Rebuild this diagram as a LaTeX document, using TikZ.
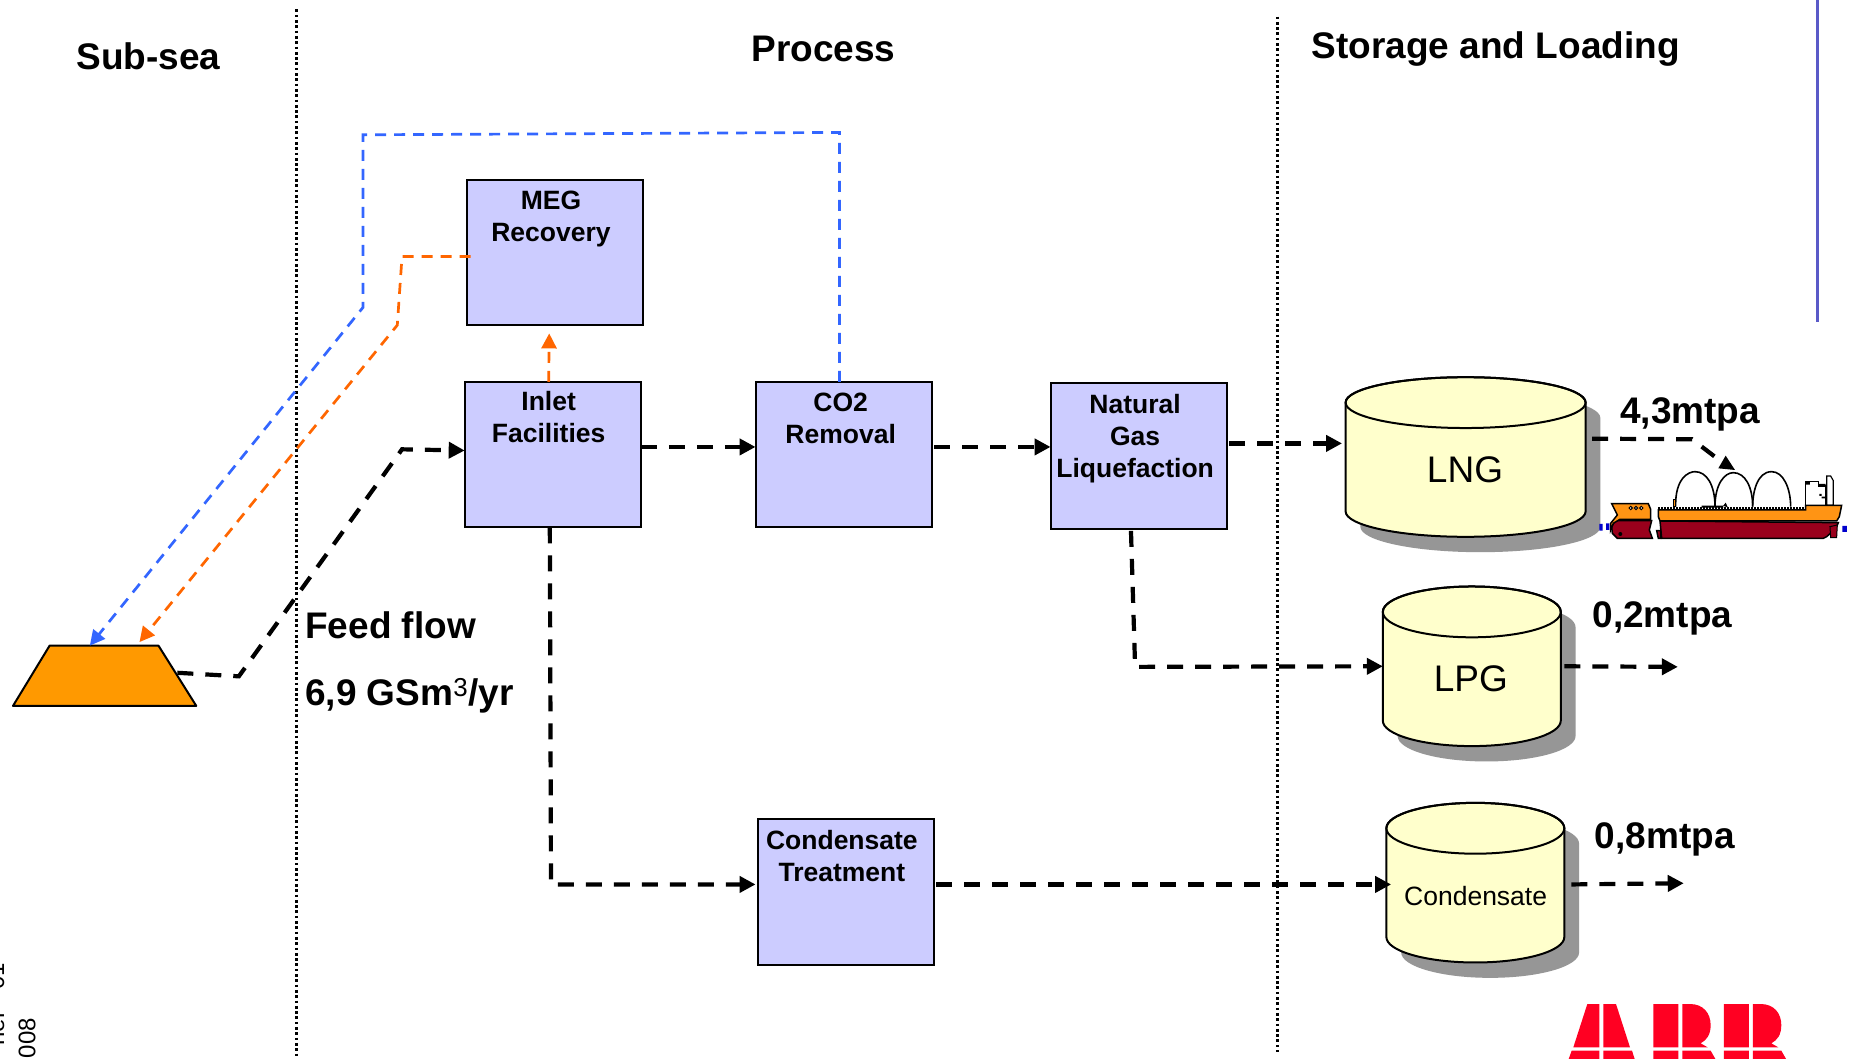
\documentclass[tikz,border=0pt]{standalone}
\usepackage{fontspec}
\setmainfont{Liberation Sans}
\usetikzlibrary{arrows.meta,calc,shapes.geometric}
\definecolor{boxfill}{HTML}{CCCCFF}
\definecolor{cylfill}{HTML}{FFFFCC}
\definecolor{shadowgray}{HTML}{969696}
\definecolor{wellorange}{HTML}{FF9900}
\definecolor{megblue}{HTML}{3366FF}
\definecolor{megorange}{HTML}{FF6600}
\definecolor{sideline}{HTML}{5A5AC8}
\definecolor{abbred}{HTML}{FF0022}
\definecolor{shiporange}{HTML}{FF9414}
\definecolor{shipred}{HTML}{99001C}
\tikzset{
  procbox/.style={draw=black,line width=2pt,fill=boxfill,minimum width=176.2pt,minimum height=145.4pt,inner sep=0pt,outer sep=0pt},
  boxtext/.style={font=\fontsize{26.5}{32}\selectfont\bfseries,align=center,anchor=north,inner sep=0pt},
  heading/.style={font=\fontsize{37}{44}\selectfont\bfseries,anchor=base,inner sep=0pt},
  cyltext/.style={font=\fontsize{37}{44}\selectfont,anchor=base,inner sep=0pt},
  flow/.style={line width=4.2pt,dash pattern=on 16pt off 12pt,-{Triangle[length=16pt,width=16pt]}},
  flowplain/.style={line width=4.2pt,dash pattern=on 16pt off 12pt},
  recycle/.style={line width=2.7pt,dash pattern=on 11pt off 8pt},
  divider/.style={line width=3pt,dash pattern=on 2.7pt off 2.6pt},
}
\newcommand{\cylinder}[6]{%
  \pgfmathsetmacro{\rx}{(#3-#2)/2}
  \pgfmathsetmacro{\cx}{(#3+#2)/2}
  \pgfmathsetmacro{\cy}{(#4+#5)/2}
  \pgfmathsetmacro{\hh}{(#5-#4+2*#6)*1.1824}
  \pgfmathsetmacro{\ww}{(#3-#2)*1.1824}
  \begin{scope}[shift={(12.5,13)}]
    \fill[shadowgray] (#2,#4) -- (#2,#5) arc[start angle=180,end angle=0,x radius=\rx,y radius=#6] -- (#3,#4) arc[start angle=0,end angle=-180,x radius=\rx,y radius=#6] -- cycle;
  \end{scope}
  \draw[line width=2pt,fill=cylfill] (#2,#4) -- (#2,#5) arc[start angle=180,end angle=0,x radius=\rx,y radius=#6] -- (#3,#4) arc[start angle=0,end angle=-180,x radius=\rx,y radius=#6] -- cycle;
  \draw[line width=2pt] (\cx,#4) ellipse[x radius=\rx,y radius=#6];
  \node[minimum width=\ww pt,minimum height=\hh pt,inner sep=0pt,outer sep=0pt] (#1) at (\cx,\cy) {};
}
\begin{document}
\begin{tikzpicture}[x=1.1824pt,y=-1.1824pt]
\useasboundingbox (0,0) rectangle (1568,894.8);
\clip (0,0) rectangle (1568,894.8);
\fill[white] (0,0) rectangle (1568,894.8);

% dividers
\coordinate (d1a) at (251,8); \coordinate (d1b) at (251,895);
\coordinate (d2a) at (1080,14); \coordinate (d2b) at (1080,890);
\coordinate (s1) at (1537,0); \coordinate (s2) at (1537,272);
\draw[divider] (d1a) -- (d1b);
\draw[divider] (d2a) -- (d2b);
\draw[sideline,line width=3.5pt] (s1) -- (s2);

% headings
\node[heading] (hsub) at (125.5,59) {Sub-sea};
\node[heading] (hproc) at (696.5,52) {Process};
\node[heading] (hstore) at (1265,49.5) {Storage and Loading};

% process boxes
\node[procbox] (meg) at (469.5,213.5) {};
\node[procbox] (inlet) at (467.5,384.5) {};
\node[procbox] (co2) at (713.5,384.5) {};
\node[procbox] (ngl) at (963,385.5) {};
\node[procbox] (cond) at (715.5,754.5) {};
\node[boxtext] (megt) at (466,161) {MEG\\Recovery};
\node[boxtext] (inlett) at (464,331) {Inlet\\Facilities};
\node[boxtext] (co2t) at (711,332) {CO2\\Removal};
\node[boxtext] (nglt) at (960,333) {Natural\\Gas\\Liquefaction};
\node[boxtext] (condt) at (712,702) {Condensate\\Treatment};

% tanks
\cylinder{lng}{1138}{1341}{340.5}{432.5}{21.5}
\cylinder{lpg}{1169.5}{1320}{517.5}{609.5}{21.5}
\cylinder{cdt}{1172.5}{1323}{700.5}{792.5}{21.5}
\node[cyltext] (lngt) at (1239,408) {LNG};
\node[cyltext] (lpgt) at (1244,585) {LPG};
\node[font=\fontsize{26.5}{32}\selectfont,anchor=base,inner sep=0pt] (cdtt) at (1248,765.5) {Condensate};

% well
\node[minimum width=183.3pt,minimum height=60.3pt,inner sep=0pt,outer sep=0pt] (well) at (88.5,571.5) {};
\draw[line width=2pt,fill=wellorange,line join=round] (well.south west) -- ($(well.north west)+(31,0)$) -- ($(well.north east)+(-32,0)$) -- (well.south east) -- cycle;

% labels
\node[heading] (m1) at (1429.5,358) {4,3mtpa};
\node[heading] (m2) at (1406,531) {0,2mtpa};
\node[heading] (m3) at (1408,718) {0,8mtpa};
\node[heading,anchor=base west] (ff1) at (258,540) {Feed flow};
\node[heading,anchor=base west] (ff2) at (258,597) {6,9 GSm\textsuperscript{\mdseries 3}/yr};

% recycle lines
\draw[recycle,megblue,-{Triangle[length=15pt,width=15pt]}] ($(co2.north)+(-3.5,0)$) -- (710,112) -- (307,114) -- (307,260) -- ($(well.north)+(-12.5,0)$);
\draw[recycle,megorange,-{Triangle[length=15pt,width=15pt]}] ($(meg.west)+(3,3.5)$) -- (340,217) -- (336,275) -- ($(well.north)+(29.5,-3)$);
\draw[recycle,megorange,-{Triangle[length=15pt,width=15pt]}] ($(inlet.north)+(-3.5,0)$) -- ($(meg.south)+(-5,7)$);

% main flows
\draw[flow] ($(well.center)+(61.5,-2.5)$) -- (202,572) -- (340,380) -- ($(inlet.west)+(0,-3.5)$);
\draw[flow] ($(inlet.east)+(0,-6.5)$) -- ($(co2.west)+(0,-6.5)$);
\draw[flow] ($(co2.east)+(2,-6.5)$) -- ($(ngl.west)+(0,-7.5)$);
\draw[flow] ($(ngl.east)+(2,-10.5)$) -- ($(lng.west)+(-3,-11.5)$);
\coordinate (lngend) at (1450,386);
\draw[flowplain] ($(lng.east)+(5.5,-15.5)$) -- (1431,371.5) -- (lngend);
\draw[flow] ($(ngl.south)+(-6.5,2)$) -- (960,564) -- ($(lpg.west)+(0,0)$);
\coordinate (lpgout) at (1419,564);
\draw[flow] ($(lpg.east)+(3,0)$) -- (lpgout);
\draw[flow] ($(inlet.south)+(-2.5,0)$) -- (466,748) -- ($(cond.west)+(-2,-6.5)$);
\draw[flow] ($(cond.east)+(2,-6.5)$) -- ($(cdt.west)+(4,1.5)$);
\coordinate (cdtout) at (1424,747);
\draw[flow] ($(cdt.east)+(6,1.5)$) -- (cdtout);

% ship
\begin{scope}[x=0.3333pt,y=-0.3333pt,shift={(1560pt,-360pt)},line width=1pt]
  \fill[black] (497,287) -- (475,325) -- (525,330) -- cycle;
  \fill[blue!80!black] (118,492) rectangle (128,512) (138,490) rectangle (148,510) (847,498) rectangle (861,516);
  \draw[fill=white,line width=1.2pt] (737,436) -- (737,365) -- (775,365) -- (775,378) -- (797,378) -- (797,436) -- cycle;
  \draw[fill=white,line width=1.2pt] (800,436) -- (800,348) -- (812,348) -- (820,362) -- (820,436) -- cycle;
  \fill (737,364) rectangle (750,374) (775,372) rectangle (797,380) (778,402) rectangle (785,408) (785,410) rectangle (797,415);
  \draw[line width=1.6pt] (347,440) .. controls (345,355) and (385,335) .. (405,335) .. controls (440,335) and (465,375) .. (465,440);
  \draw[line width=1.6pt] (465,440) .. controls (465,370) and (495,338) .. (520,338) .. controls (555,338) and (578,380) .. (578,440);
  \draw[line width=1.6pt] (578,440) .. controls (578,400) and (590,335) .. (635,335) .. controls (670,335) and (692,385) .. (692,440);
  \draw[fill=shiporange] (339,420) rectangle (347,440);
  \draw[fill=shipred,line width=1.5pt] (300,483) -- (835,488) -- (828,505) -- (800,530) -- (790,535) -- (305,535) -- cycle;
  \draw[fill=shipred,line width=1pt] (810,500) -- (832,495) -- (830,533) -- (812,533) -- cycle;
  \draw[fill=shiporange,line width=1.5pt] (295,450) -- (737,450) -- (737,436) -- (845,436) -- (838,470) -- (830,483) -- (300,483) -- (295,470) -- cycle;
  \draw[line width=2pt,dash pattern=on 2pt off 1pt] (295,444) -- (737,444);
  \fill (425,437) rectangle (490,443) (490,437) -- (497,428) -- (504,443) -- cycle;
  \draw[fill=shipred,line width=1.5pt] (165,482) -- (275,482) -- (268,510) -- (277,535) -- (172,535) -- (157,520) -- (155,500) -- cycle;
  \draw[fill=shiporange,line width=1.5pt] (155,431) -- (265,431) -- (272,448) -- (272,478) -- (180,478) -- (160,490) -- (152,510) -- (152,490) -- (172,465) -- cycle;
  \draw[fill=white,line width=1pt] (212,444) circle (5) (228,444) circle (5) (244,444) circle (5);
  \fill (181,522) circle (6);
  \draw[fill=shipred,line width=1.5pt] (290,512) -- (302,512) -- (302,535) -- (295,535) -- cycle;
\end{scope}

% ABB logo
\begin{scope}[x=0.3333pt,y=-0.3333pt,shift={(1500pt,-960pt)}]
  \fill[abbred] (262,132) -- (298,132) -- (298,262) -- (220,262) -- cycle
    (310,132) -- (348,132) -- (390,262) -- (310,262) -- cycle
    (215,272) -- (298,272) -- (298,300) -- (205,300) -- cycle
    (310,272) -- (396,272) -- (405,300) -- (310,300) -- cycle;
  \foreach \dx in {0,212}{
    \begin{scope}[xshift=\dx*0.3333pt]
      \fill[abbred] (460,132) rectangle (535,262) (460,272) rectangle (535,300)
        (547,132) -- (570,132) .. controls (610,132) and (632,160) .. (632,195) .. controls (632,225) and (620,240) .. (602,250) -- (623,262) -- (547,262) -- cycle
        (547,272) -- (632,272) -- (648,300) -- (547,300) -- cycle;
    \end{scope}
  }
\end{scope}

% clipped margin text
\node[rotate=90,anchor=base east,inner sep=0pt,font=\fontsize{24}{28}\selectfont] (v1) at (3.5,814) {ner - 01};
\node[rotate=90,anchor=base west,inner sep=0pt,font=\fontsize{24}{28}\selectfont] (v2) at (30,895) {008};
\end{tikzpicture}
\end{document}
